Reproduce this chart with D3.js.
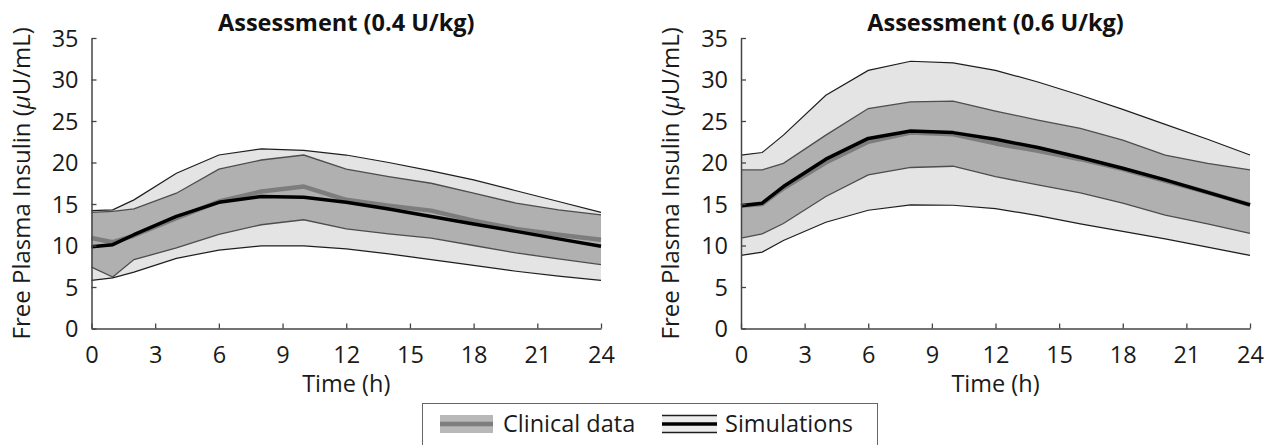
<!DOCTYPE html>
<html lang="en">
<head>
<meta charset="UTF-8">
<script src="https://cdn.jsdelivr.net/npm/d3@7"></script>
<title>Free Plasma Insulin</title>
<style>
    body { margin: 0; background: white; }
    svg { display: block; font-family: 'Open Sans', sans-serif; }
    .tick text { fill: #1a1a1a; }
</style>
</head>
<body>
<div id="chart"></div>
<script>
    // sampling times (h)
    const times = [0, 1, 2, 4, 6, 8, 10, 12, 14, 16, 18, 20, 22, 24];
    const xTicks = [0, 3, 6, 9, 12, 15, 18, 21, 24];
    const yTicks = [0, 5, 10, 15, 20, 25, 30, 35];
    const panelTitles = ["Assessment (0.4 U/kg)", "Assessment (0.6 U/kg)"];

    // 0.4 U/kg
    const simUpper04 = [14.2, 14.3, 15.5, 18.7, 20.9, 21.65, 21.45, 20.9, 20.0, 19.0, 17.9, 16.6, 15.3, 14.0];
    const simLower04 = [5.8, 6.1, 6.8, 8.45, 9.45, 9.95, 9.95, 9.6, 9.0, 8.3, 7.6, 6.9, 6.3, 5.8];
    const simMedian04 = [9.85, 10.1, 11.3, 13.5, 15.2, 15.9, 15.8, 15.2, 14.4, 13.5, 12.6, 11.7, 10.8, 9.9];
    const clinUpper04 = [14.0, 14.1, 14.4, 16.3, 19.2, 20.3, 20.9, 19.2, 18.3, 17.5, 16.3, 15.1, 14.3, 13.7];
    const clinLower04 = [7.4, 6.2, 8.3, 9.7, 11.35, 12.5, 13.1, 12.0, 11.4, 10.9, 10.0, 9.1, 8.4, 7.7];
    const clinMedian04 = [10.9, 10.4, 11.2, 13.3, 15.3, 16.5, 17.1, 15.5, 14.8, 14.2, 13.0, 12.0, 11.3, 10.7];

    // 0.6 U/kg
    const simUpper06 = [20.9, 21.2, 23.3, 28.1, 31.1, 32.2, 32.0, 31.1, 29.7, 28.1, 26.4, 24.6, 22.8, 20.9];
    const simLower06 = [8.8, 9.2, 10.6, 12.8, 14.25, 14.9, 14.85, 14.45, 13.6, 12.6, 11.7, 10.8, 9.8, 8.8];
    const simMedian06 = [14.8, 15.1, 17.1, 20.4, 22.9, 23.8, 23.6, 22.8, 21.8, 20.6, 19.3, 17.9, 16.4, 14.9];
    const clinUpper06 = [19.1, 19.1, 19.9, 23.3, 26.5, 27.3, 27.4, 26.2, 25.1, 24.1, 22.7, 20.9, 19.9, 19.1];
    const clinLower06 = [10.9, 11.4, 12.65, 15.9, 18.5, 19.4, 19.55, 18.3, 17.3, 16.35, 15.1, 13.65, 12.6, 11.45];
    const clinMedian06 = [14.8, 15.0, 16.9, 20.0, 22.5, 23.6, 23.4, 22.3, 21.4, 20.4, 19.2, 17.8, 16.4, 14.9];

    const width = 1271, height = 445;
    const svg = d3.select("#chart").append("svg")
        .attr("width", width)
        .attr("height", height);

    const y = d3.scaleLinear().domain([0, 35]).range([328.5, 38]);

    const panels = [
        { left: 91.5, right: 601, title: panelTitles[0],
          simU: simUpper04, simL: simLower04, simM: simMedian04,
          clU: clinUpper04, clL: clinLower04, clM: clinMedian04 },
        { left: 741, right: 1250, title: panelTitles[1],
          simU: simUpper06, simL: simLower06, simM: simMedian06,
          clU: clinUpper06, clL: clinLower06, clM: clinMedian06 }
    ];

    panels.forEach(p => {
        const x = d3.scaleLinear().domain([0, 24]).range([p.left, p.right]);
        const g = svg.append("g");

        const area = (lo, hi) => d3.area()
            .x((d, i) => x(times[i]))
            .y0((d, i) => y(lo[i]))
            .y1((d, i) => y(hi[i]));
        const line = d3.line()
            .x((d, i) => x(times[i]))
            .y(d => y(d));

        // simulation band
        g.append("path").datum(times)
            .attr("d", area(p.simL, p.simU))
            .attr("fill", "#e4e4e4");
        // clinical band
        g.append("path").datum(times)
            .attr("d", area(p.clL, p.clU))
            .attr("fill", "#b0b0b0");

        [p.clU, p.clL].forEach(s => {
            g.append("path").datum(s)
                .attr("d", line)
                .attr("fill", "none")
                .attr("stroke", "#4d4d4d")
                .attr("stroke-width", 1.3);
        });
        [p.simU, p.simL].forEach(s => {
            g.append("path").datum(s)
                .attr("d", line)
                .attr("fill", "none")
                .attr("stroke", "#1e1e1e")
                .attr("stroke-width", 1.2);
        });

        g.append("path").datum(p.clM)
            .attr("d", line)
            .attr("fill", "none")
            .attr("stroke", "#7d7d7d")
            .attr("stroke-width", 4.5)
            .attr("stroke-linejoin", "round");
        g.append("path").datum(p.simM)
            .attr("d", line)
            .attr("fill", "none")
            .attr("stroke", "#000")
            .attr("stroke-width", 3.5)
            .attr("stroke-linejoin", "round");

        // axes, ticks pointing inward
        const xAxis = g.append("g")
            .attr("transform", `translate(0,${y(0)})`)
            .call(d3.axisBottom(x).tickValues(xTicks).tickSize(-5).tickSizeOuter(0));
        const yAxis = g.append("g")
            .attr("transform", `translate(${p.left},0)`)
            .call(d3.axisLeft(y).tickValues(yTicks).tickSize(-5).tickSizeOuter(0).tickPadding(13));
        [xAxis, yAxis].forEach(a => {
            a.select(".domain").attr("stroke", "#444").attr("stroke-width", 1.5);
            a.selectAll(".tick line").attr("stroke", "#444").attr("stroke-width", 1.3);
            a.selectAll(".tick text").attr("font-size", 23.5).attr("font-family", "'Open Sans', sans-serif");
        });
        xAxis.selectAll(".tick text").attr("y", 34.5).attr("dy", 0);
        yAxis.selectAll(".tick text").attr("dy", "0.36em");

        const cx = (p.left + p.right) / 2;
        g.append("text")
            .attr("x", cx).attr("y", 31)
            .attr("text-anchor", "middle")
            .attr("font-size", 23.5)
            .attr("font-weight", "bold")
            .attr("fill", "#111")
            .text(p.title);

        g.append("text")
            .attr("x", cx).attr("y", 392)
            .attr("text-anchor", "middle")
            .attr("font-size", 23.5)
            .attr("fill", "#1a1a1a")
            .text("Time (h)");

        const yl = g.append("text")
            .attr("transform", `translate(${p.left - 62},${y(17.5)}) rotate(-90)`)
            .attr("text-anchor", "middle")
            .attr("font-size", 24)
            .attr("fill", "#1a1a1a");
        yl.append("tspan").text("Free Plasma Insulin (");
        yl.append("tspan").attr("font-style", "italic").text("\u03bc");
        yl.append("tspan").text("U/mL)");
    });

    // legend
    const lg = svg.append("g");
    lg.append("rect")
        .attr("x", 422.5).attr("y", 403.5)
        .attr("width", 455).attr("height", 60)
        .attr("fill", "white")
        .attr("stroke", "#666")
        .attr("stroke-width", 1);

    lg.append("rect")
        .attr("x", 440).attr("y", 415)
        .attr("width", 53).attr("height", 18)
        .attr("fill", "#b8b8b8");
    lg.append("line")
        .attr("x1", 440).attr("x2", 493).attr("y1", 424).attr("y2", 424)
        .attr("stroke", "#7d7d7d").attr("stroke-width", 4.5);
    lg.append("text")
        .attr("x", 503).attr("y", 432)
        .attr("font-size", 23.5).attr("fill", "#1a1a1a")
        .text("Clinical data");

    lg.append("rect")
        .attr("x", 662).attr("y", 415)
        .attr("width", 55).attr("height", 18)
        .attr("fill", "#ececec");
    [415.5, 432.5].forEach(yy => lg.append("line")
        .attr("x1", 662).attr("x2", 717).attr("y1", yy).attr("y2", yy)
        .attr("stroke", "#1e1e1e").attr("stroke-width", 1.3));
    lg.append("line")
        .attr("x1", 662).attr("x2", 717).attr("y1", 424).attr("y2", 424)
        .attr("stroke", "#000").attr("stroke-width", 3.5);
    lg.append("text")
        .attr("x", 725).attr("y", 432)
        .attr("font-size", 23.5).attr("fill", "#1a1a1a")
        .text("Simulations");
</script>
</body>
</html>
